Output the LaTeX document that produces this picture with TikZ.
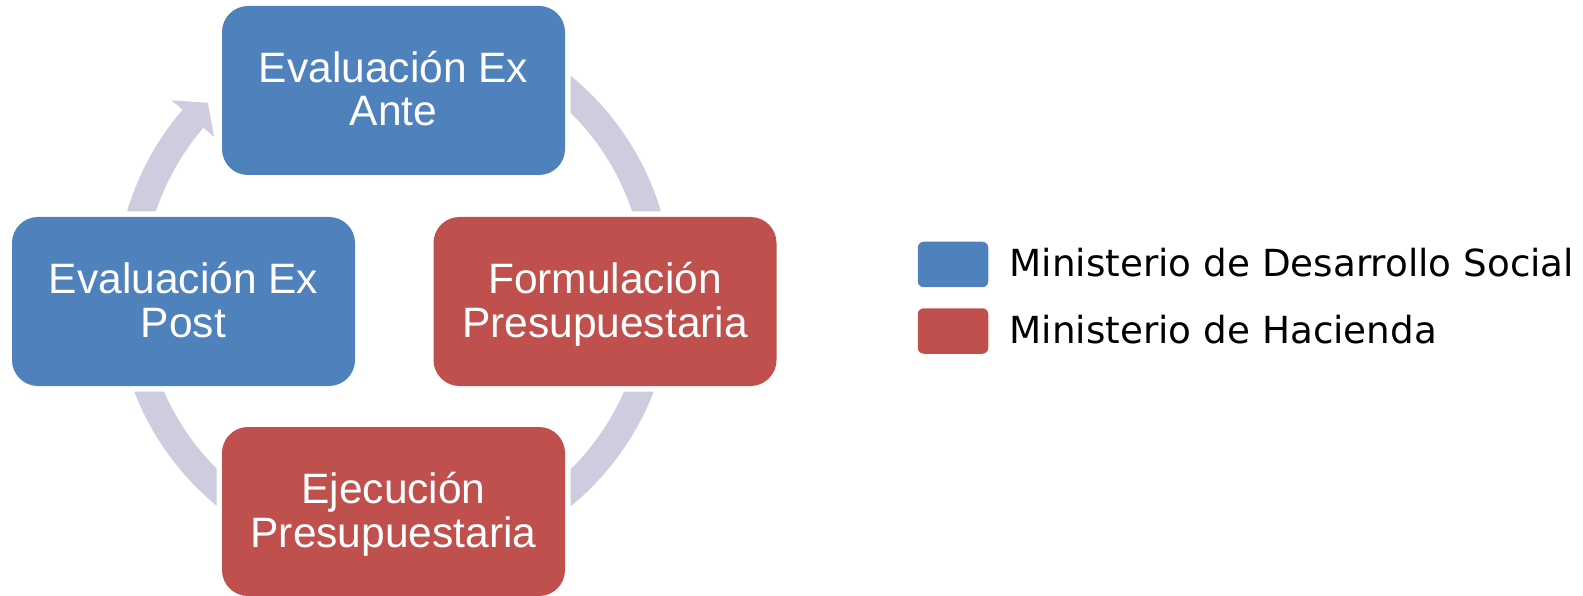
\documentclass[tikz,border=0pt]{standalone}
\usepackage{fontspec}
\setmainfont{Liberation Sans}
\newfontfamily\legendfont{DejaVu Sans}
\definecolor{boxblue}{HTML}{4F81BD}
\definecolor{boxred}{HTML}{C0504D}
\definecolor{ringcol}{HTML}{CDCDDF}
\newcommand{\twolines}[2]{\rule{0pt}{36.5pt}\smash{#1}\\#2\rule[-9pt]{0pt}{9pt}}
\tikzset{
  stage/.style={rounded corners=26pt, minimum width=343pt, minimum height=169pt,
    inner sep=0pt, align=center, text=white, font=\fontsize{42.5}{43.5}\selectfont},
  gapbox/.style={fill=white, rounded corners=30pt, minimum width=354pt,
    minimum height=180pt, inner sep=0pt},
  ringline/.style={draw=ringcol, line width=27.5pt},
  legbox/.style={rounded corners=6pt, minimum width=70.5pt, minimum height=45.5pt, inner sep=0pt},
  legtext/.style={anchor=base west, inner sep=0pt, font=\legendfont\fontsize{37.3}{40}\selectfont}
}
\begin{document}
\begin{tikzpicture}[x=1pt,y=-1pt]
\useasboundingbox (0,0) rectangle (1583,596);
\coordinate (c) at (394,291);
\begin{scope}[shift={(c)}]
  \draw[ringline] (221.5:264.75) arc[start angle=221.5, end angle=-100, radius=264.75];
  \fill[ringcol] (220.6:293) -- (225.3:264.75) -- (220.6:237) -- cycle;
\end{scope}
% white gaps around the stages
\node[gapbox] (gtop) at (393.5,90.5) {};
\node[gapbox] (gleft) at (183.5,301.5) {};
\node[gapbox] (gright) at (605,301.5) {};
\node[gapbox] (gbottom) at (393.5,511.5) {};
% stages
\node[stage, fill=boxblue] (top) at (gtop) {\twolines{Evaluación Ex}{Ante}};
\node[stage, fill=boxblue] (left) at (gleft) {\twolines{Evaluación Ex}{Post}};
\node[stage, fill=boxred] (right) at (gright) {\twolines{Formulación}{Presupuestaria}};
\node[stage, fill=boxred] (bottom) at (gbottom) {\twolines{Ejecución}{Presupuestaria}};
% legend
\node[legbox, fill=boxblue] (lb1) at (953,264.5) {};
\node[legbox, fill=boxred] (lb2) at (953,331) {};
\node[legtext] (lt1) at (1009.5,276.7) {Ministerio de Desarrollo Social};
\node[legtext] (lt2) at (1009.5,343.3) {Ministerio de Hacienda};
\end{tikzpicture}
\end{document}
